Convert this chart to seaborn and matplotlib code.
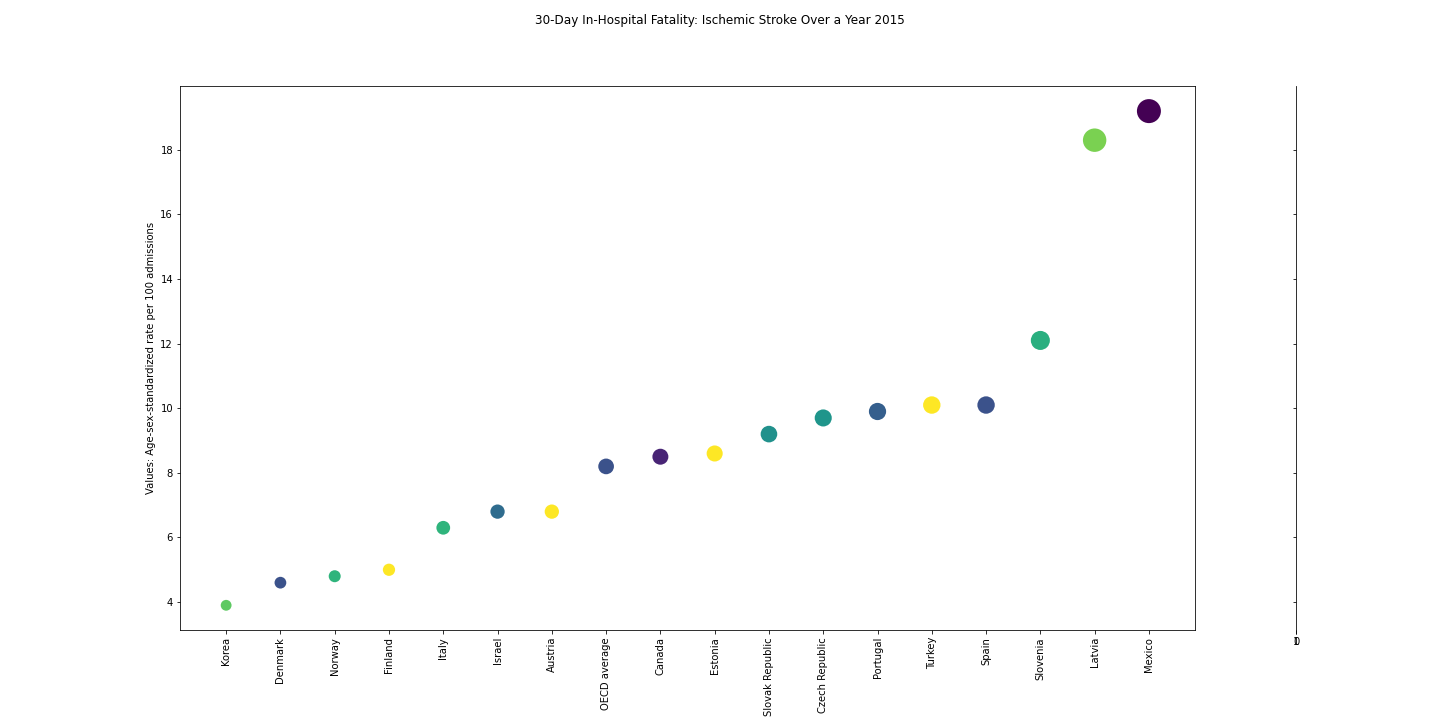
import matplotlib
matplotlib.use("Agg")
import matplotlib.pyplot as plt
import seaborn as sns
import pandas as pd

countries = ["Korea", "Denmark", "Norway", "Finland", "Italy", "Israel", "Austria",
             "OECD average", "Canada", "Estonia", "Slovak Republic", "Czech Republic",
             "Portugal", "Turkey", "Spain", "Slovenia", "Latvia", "Mexico"]
values = [3.9, 4.6, 4.8, 5.0, 6.3, 6.8, 6.8, 8.2, 8.5, 8.6, 9.2, 9.7, 9.9, 10.1, 10.1,
          12.1, 18.3, 19.2]
# colour value of each point on the viridis scale
shade = [0.75, 0.25, 0.65, 1.0, 0.65, 0.35, 1.0, 0.25, 0.1, 1.0, 0.5, 0.52, 0.3,
         1.0, 0.25, 0.63, 0.8, 0.0]

df = pd.DataFrame({"country": countries, "value": values, "shade": shade})

fig = plt.figure(figsize=(20, 10), dpi=72)
ax = fig.add_axes([0.125, 0.125, 0.7049, 0.755])
sns.scatterplot(data=df, x="country", y="value", hue="shade", palette="viridis",
                hue_norm=(0, 1), size="value", sizes=(117, 576), linewidth=0,
                legend=False, ax=ax)
ax.set_xlabel("")
ax.set_ylabel("Values: Age-sex-standardized rate per 100 admissions")
ax.tick_params(axis="x", labelrotation=90)
ax.margins(x=0.05, y=0.05)

# empty side axis
ax2 = fig.add_axes([0.9, 0.125, 0.00001, 0.755], sharey=ax)
ax2.set_xlim(0, 1)
ax2.set_xticks([0, 1])
ax2.set_xticklabels(["0", "1"])
ax2.tick_params(axis="y", labelleft=False)
for side in ["top", "right", "bottom"]:
    ax2.spines[side].set_visible(False)

fig.suptitle("30-Day In-Hospital Fatality: Ischemic Stroke Over a Year 2015")
fig.savefig("out.png", dpi=72)
